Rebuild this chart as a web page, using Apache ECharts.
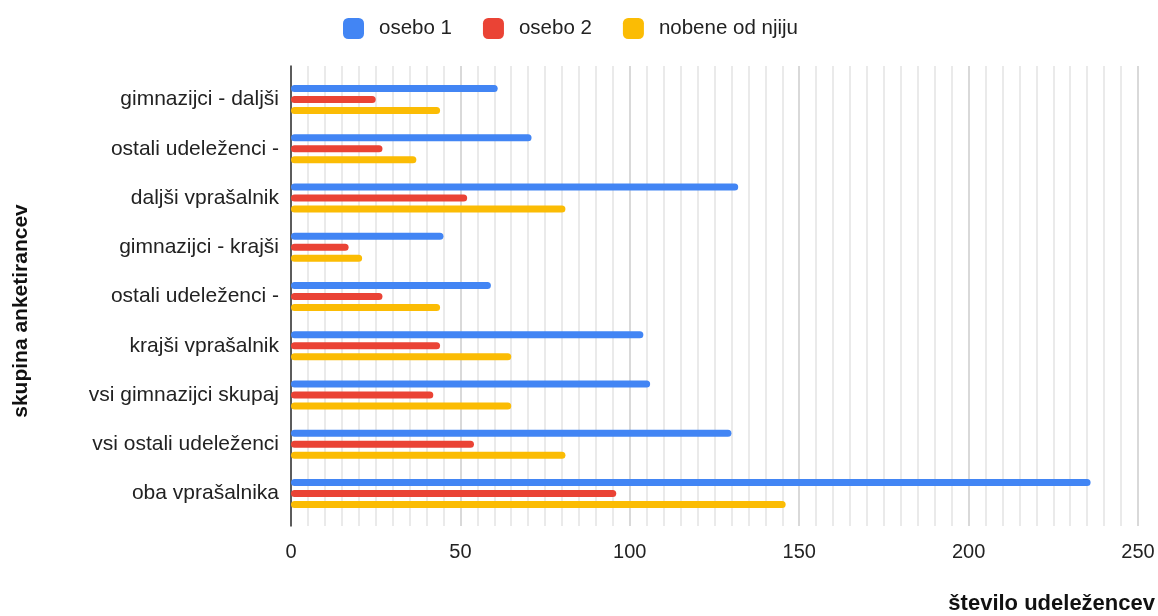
<!DOCTYPE html>
<html>
<head>
<meta charset="utf-8">
<script src="https://cdn.jsdelivr.net/npm/echarts@6/dist/echarts.min.js"></script>
<style>
  html, body { margin: 0; padding: 0; background: #fff; }
  #chart { width: 1158px; height: 616px; }
</style>
</head>
<body>
<div id="chart"></div>
<script>
// skupine od zgoraj navzdol
const categories = [
  'gimnazijci - daljši',
  'ostali udeleženci -',
  'daljši vprašalnik',
  'gimnazijci - krajši',
  'ostali udeleženci -',
  'krajši vprašalnik',
  'vsi gimnazijci skupaj',
  'vsi ostali udeleženci',
  'oba vprašalnika'
]
const osebo1 = [61, 71, 132, 45, 59, 104, 106, 130, 236]
const osebo2 = [25, 27, 52, 17, 27, 44, 42, 54, 96]
const nobena = [44, 37, 81, 21, 44, 65, 65, 81, 146]
const seriesNames = ['osebo 1', 'osebo 2', 'nobene od njiju']
const xTicks = [0, 50, 100, 150, 200, 250]

const font = 'Arial, "Liberation Sans", sans-serif'

function barSeries (name, data, color) {
  return {
    name: name,
    type: 'bar',
    xAxisIndex: 1,
    yAxisIndex: 1,
    data: data,
    barWidth: 7,
    barGap: '57%',
    itemStyle: { color: color, borderRadius: 3.5 },
    emphasis: { disabled: true }
  }
}

let option = {
  animation: false,
  textStyle: { fontFamily: font },
  color: ['#4285f4', '#ea4335', '#fbbc04'],
  legend: {
    top: 13,
    left: 338,
    itemWidth: 21,
    itemHeight: 21,
    itemGap: 31,
    icon: 'roundRect',
    textStyle: { fontSize: 20.5, color: '#222', fontFamily: font, padding: [0, 0, 0, 10] },
    data: seriesNames
  },
  // grid 0 = mreža in os, grid 1 = stolpci
  grid: [
    { left: 291, right: 20, top: 66, bottom: 90 },
    { left: 291, right: 20, top: 75, bottom: 98 }
  ],
  xAxis: [
    {
      gridIndex: 0,
      type: 'value',
      min: xTicks[0],
      max: xTicks[xTicks.length - 1],
      interval: 50,
      axisLine: { show: false },
      axisTick: { show: false },
      axisLabel: {
        fontSize: 20, color: '#222', margin: 16, fontFamily: font,
        formatter: function (v) { return xTicks.indexOf(v) >= 0 ? String(v) : '' }
      },
      splitLine: { show: true, lineStyle: { color: '#cccccc', width: 1.5 } },
      minorTick: { show: false, splitNumber: 10 },
      minorSplitLine: { show: true, lineStyle: { color: '#e4e4e4', width: 1.5 } }
    },
    {
      gridIndex: 1,
      type: 'value',
      min: 0,
      max: 250,
      show: false
    }
  ],
  yAxis: [
    {
      gridIndex: 0,
      type: 'value',
      min: 0,
      max: 1,
      axisLine: { show: true, lineStyle: { color: '#333', width: 1.5 } },
      axisTick: { show: false },
      axisLabel: { show: false },
      splitLine: { show: false }
    },
    {
      gridIndex: 1,
      type: 'category',
      inverse: true,
      data: categories,
      axisLine: { show: false },
      axisTick: { show: false },
      axisLabel: { fontSize: 21, color: '#222', margin: 12, fontFamily: font },
      splitLine: { show: false }
    }
  ],
  graphic: [
    {
      type: 'text',
      x: 21,
      y: 311,
      rotation: Math.PI / 2,
      style: {
        text: 'skupina anketirancev',
        font: 'bold 21px ' + font,
        fill: '#111',
        align: 'center',
        verticalAlign: 'middle'
      }
    },
    {
      type: 'text',
      right: 3,
      top: 593,
      style: {
        text: 'število udeležencev',
        font: 'bold 22px ' + font,
        fill: '#111'
      }
    }
  ],
  series: [
    barSeries(seriesNames[0], osebo1, '#4285f4'),
    barSeries(seriesNames[1], osebo2, '#ea4335'),
    barSeries(seriesNames[2], nobena, '#fbbc04')
  ]
}

let chart = echarts.init(document.getElementById('chart'))
chart.setOption(option)
</script>
</body>
</html>
